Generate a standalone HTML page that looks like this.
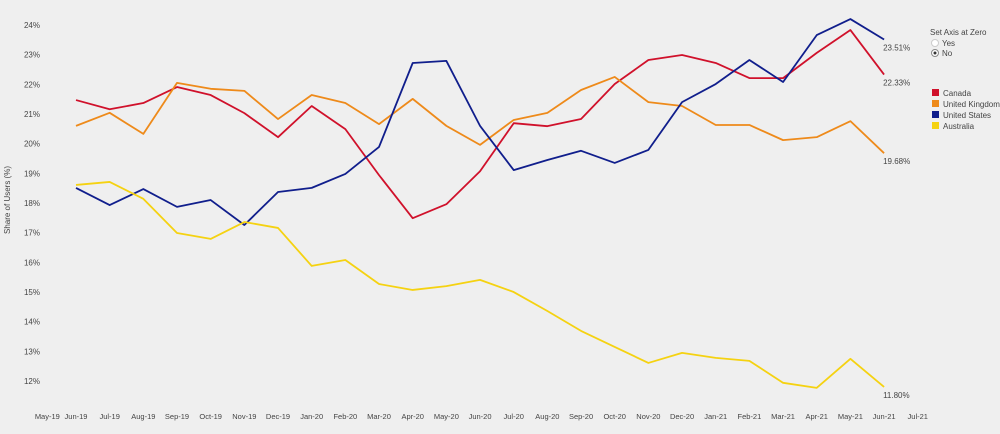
<!DOCTYPE html>
<html><head><meta charset="utf-8"><style>
body{margin:0;background:#efefef;font-family:"Liberation Sans",sans-serif;}
svg text{font-family:"Liberation Sans",sans-serif;fill:#444;}
</style></head><body>
<svg width="1000" height="429" viewBox="0 0 1000 429">
<g id="axes"></g><g id="lines"></g>
<g>
<text x="930" y="35" font-size="8">Set Axis at Zero</text>
<circle cx="935" cy="43" r="3.5" fill="#fff" stroke="#ccc"/>
<text x="942" y="46" font-size="8">Yes</text>
<circle cx="935" cy="53" r="3.5" fill="#fff" stroke="#888"/>
<circle cx="935" cy="53" r="1.5" fill="#333"/>
<text x="942" y="56" font-size="8">No</text>
</g>
<g id="legend"></g>
</svg>
<script>
const months=["Jun-19","Jul-19","Aug-19","Sep-19","Oct-19","Nov-19","Dec-19","Jan-20","Feb-20","Mar-20","Apr-20","May-20","Jun-20","Jul-20","Aug-20","Sep-20","Oct-20","Nov-20","Dec-20","Jan-21","Feb-21","Mar-21","Apr-21","May-21","Jun-21"];
const xLabels=["May-19"].concat(months,["Jul-21"]);
const yTicks=[12,13,14,15,16,17,18,19,20,21,22,23,24];
const canada=[21.47,21.16,21.37,21.91,21.64,21.03,20.22,21.27,20.49,18.94,17.49,17.96,19.07,20.69,20.59,20.83,22.01,22.82,22.99,22.72,22.21,22.21,23.06,23.83,22.33];
const uk=[20.6,21.04,20.33,22.05,21.85,21.78,20.83,21.64,21.37,20.66,21.51,20.6,19.96,20.8,21.04,21.81,22.25,21.4,21.27,20.63,20.63,20.12,20.22,20.76,19.68];
const us=[18.51,17.93,18.47,17.87,18.1,17.26,18.37,18.51,18.98,19.89,22.72,22.79,20.6,19.11,19.45,19.76,19.35,19.79,21.4,22.01,22.82,22.08,23.66,24.2,23.51];
const aus=[18.61,18.71,18.14,16.99,16.79,17.36,17.16,15.88,16.08,15.27,15.07,15.2,15.41,15.0,14.36,13.69,13.15,12.61,12.95,12.78,12.68,11.94,11.77,12.75,11.8];
const seriesNames=["Canada","United Kingdom","United States","Australia"];
const colors=["#d0112b","#ee8a1a","#101e8c","#f5d211"];
const series=[canada,uk,us,aus];
const NS="http://www.w3.org/2000/svg";
const x=i=>76+(i)*33.67; // i index in months; May-19 = -1
const y=v=>25+(24-v)*29.67;
function mk(tag,a,p){const e=document.createElementNS(NS,tag);for(const k in a)e.setAttribute(k,a[k]);p.appendChild(e);return e;}
const ax=document.getElementById('axes');
yTicks.forEach(t=>{const e=mk('text',{x:40,y:y(t)+3,'font-size':8,'text-anchor':'end'},ax);e.textContent=t+'%';

});
xLabels.forEach((l,i)=>{const e=mk('text',{x:x(i-1)+(i==0?5:0),y:419,'font-size':7.5,'text-anchor':'middle'},ax);e.textContent=l;

});
const yt=mk('text',{x:10,y:200,'font-size':8,'text-anchor':'middle',transform:'rotate(-90 10 200)'},ax);yt.textContent='Share of Users (%)';


const lg=document.getElementById('lines');
series.forEach((s,k)=>{
 const p=mk('polyline',{points:s.map((v,i)=>x(i)+','+y(v)).join(' '),fill:'none',stroke:colors[k],'stroke-width':1.8,'stroke-linejoin':'round'},lg);
 
 
 const last=s[s.length-1];
 const t=mk('text',{x:x(s.length-1)-1,y:y(last)+11,'font-size':8},lg);t.textContent=last.toFixed(2)+'%';
 
 
});
const leg=document.getElementById('legend');
seriesNames.forEach((n,k)=>{
 const r=mk('rect',{x:932,y:89+k*11,width:7,height:7,fill:colors[k]},leg);
 
 
 const t=mk('text',{x:943,y:96+k*11,'font-size':8},leg);t.textContent=n;
 
 
});
</script>
</body></html>
